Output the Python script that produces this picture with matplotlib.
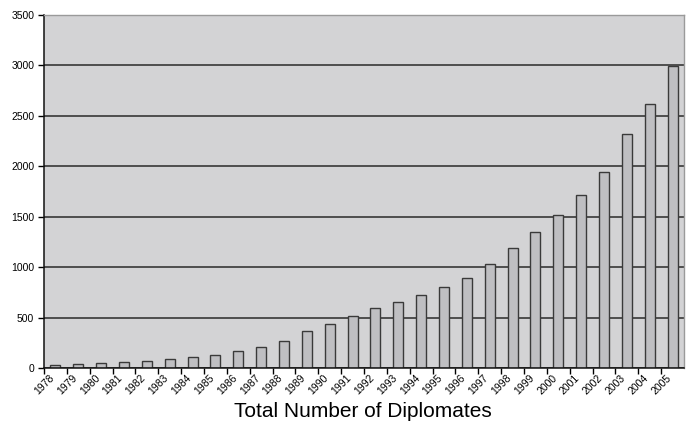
import numpy as np
import matplotlib
matplotlib.use("Agg")
from matplotlib import pyplot as plt
from matplotlib.transforms import ScaledTranslation

plt.rcParams['font.family'] = ['Liberation Sans', 'DejaVu Sans']

years = [str(y) for y in range(1978, 2006)]
diplomates = [25, 35, 50, 58, 72, 87, 105, 130, 170, 210, 265, 365, 438,
              518, 598, 651, 724, 806, 889, 1034, 1185, 1345, 1520, 1718,
              1946, 2323, 2622, 2990]

fig = plt.figure(figsize=(6.9, 4.21), dpi=100)
ax = fig.add_axes([44/690, 53/421, 640/690, 353/421])
ax.set_facecolor('#d3d3d5')

x = np.arange(len(years))
ax.set_axisbelow(True)
ax.yaxis.grid(True, color='#2a2a2a', linewidth=1.1)
ax.bar(x, diplomates, width=0.44, color='#bfbfc2', edgecolor='#3a3a3a', linewidth=1.0)

ax.set_xlim(-0.5, len(years) - 0.5)
ax.set_ylim(0, 3500)
ax.set_yticks(range(0, 3501, 500))
ax.tick_params(axis='y', labelsize=7.5, length=4, width=1, direction='out', pad=3)

# ticks between categories, labels under each bar
ax.set_xticks(x - 0.5, minor=False)
ax.set_xticklabels([])
ax.set_xticks(x, minor=True)
ax.set_xticklabels(years, minor=True, rotation=45, ha='right', va='center',
                   rotation_mode='anchor', fontsize=7.5)
ax.tick_params(axis='x', which='major', length=4, width=1, direction='out')
ax.tick_params(axis='x', which='minor', length=0, pad=6)
shift = ScaledTranslation(-3/100, 0, fig.dpi_scale_trans)
for lab in ax.get_xticklabels(minor=True):
    lab.set_transform(lab.get_transform() + shift)

for s in ['left', 'bottom']:
    ax.spines[s].set_color('#111111')
    ax.spines[s].set_linewidth(1.1)
for s in ['top', 'right']:
    ax.spines[s].set_color('#9a9a9a')
    ax.spines[s].set_linewidth(1.0)

fig.text(363/690, 4/421, 'Total Number of Diplomates', ha='center', va='baseline', fontsize=15)

fig.savefig('out.png', dpi=100)
